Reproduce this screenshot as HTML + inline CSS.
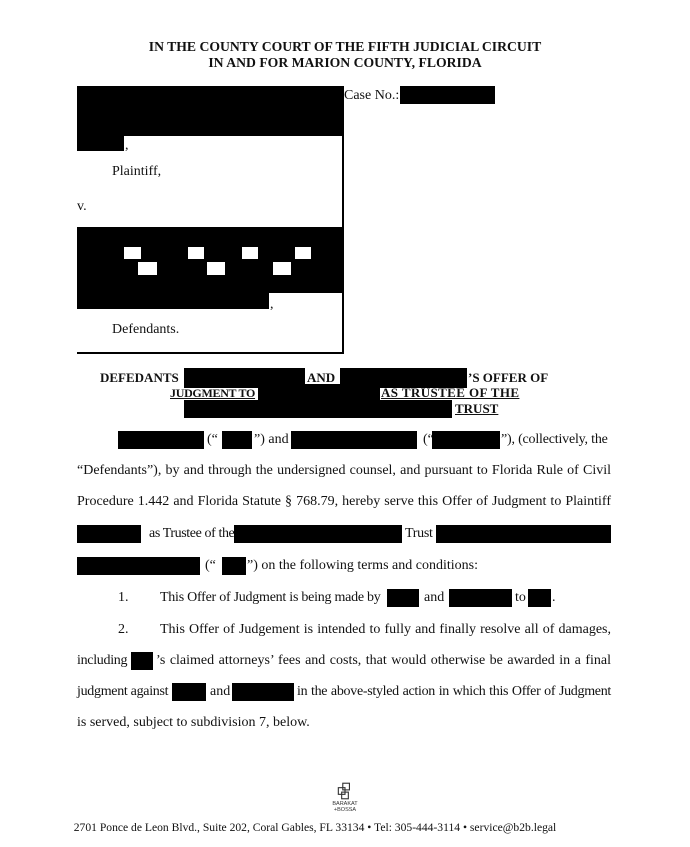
<!DOCTYPE html>
<html><head><meta charset="utf-8"><style>
body{margin:0;width:690px;height:847px;background:#fff;position:relative;overflow:hidden;font-family:"Liberation Serif",serif;color:#111}
.a{position:absolute;white-space:nowrap}
.b{position:absolute;background:#000}
.w{position:absolute;background:#fff}
.t{position:absolute;font-size:14px;line-height:18px;white-space:nowrap}
.j{text-align:justify;text-align-last:justify;white-space:normal}
.h{font-weight:bold;font-size:13px;line-height:16px}
</style></head><body>
<div class="a h" style="left:0;width:690px;text-align:center;top:39px;font-size:13.7px">IN THE COUNTY COURT OF THE FIFTH JUDICIAL CIRCUIT</div>
<div class="a h" style="left:0;width:690px;text-align:center;top:55px;font-size:13.7px">IN AND FOR MARION COUNTY, FLORIDA</div>

<div class="b" style="left:77px;top:86px;width:265px;height:50px"></div>
<div class="b" style="left:77px;top:136px;width:47px;height:15px"></div>
<div class="t" style="left:125px;top:137px">,</div>
<div class="b" style="left:342px;top:86px;width:2px;height:268px"></div>
<div class="b" style="left:77px;top:352px;width:267px;height:2px"></div>
<div class="t" style="left:344px;top:87px">Case No.:</div>
<div class="b" style="left:400px;top:86px;width:95px;height:18px"></div>
<div class="t" style="left:112px;top:163px">Plaintiff,</div>
<div class="t" style="left:77px;top:198px">v.</div>
<div class="b" style="left:77px;top:227px;width:265px;height:66px"></div>
<div class="b" style="left:77px;top:293px;width:192px;height:16px"></div>
<div class="w" style="left:124px;top:247px;width:17px;height:12px"></div>
<div class="w" style="left:138px;top:262px;width:19px;height:13px"></div>
<div class="w" style="left:188px;top:247px;width:16px;height:12px"></div>
<div class="w" style="left:207px;top:262px;width:18px;height:13px"></div>
<div class="w" style="left:242px;top:247px;width:16px;height:12px"></div>
<div class="w" style="left:273px;top:262px;width:18px;height:13px"></div>
<div class="w" style="left:295px;top:247px;width:16px;height:12px"></div>
<div class="t" style="left:270px;top:296px">,</div>
<div class="t" style="left:112px;top:321px">Defendants.</div>

<div class="a h" style="left:100px;top:370px">DEFEDANTS</div>
<div class="b" style="left:184px;top:368px;width:121px;height:20px"></div>
<div class="a h" style="left:307px;top:370px">AND</div>
<div class="b" style="left:340px;top:368px;width:127px;height:20px"></div>
<div class="a h" style="left:468px;top:370px">’S OFFER OF</div>
<div class="a h" style="left:170px;top:385px;text-decoration:underline;font-size:12px;letter-spacing:-0.3px">JUDGMENT TO</div>
<div class="b" style="left:258px;top:384px;width:122px;height:16px"></div>
<div class="a h" style="left:381px;top:385px;text-decoration:underline;letter-spacing:0.4px">AS TRUSTEE OF THE</div>
<div class="b" style="left:184px;top:400px;width:268px;height:18px"></div>
<div class="a h" style="left:455px;top:401px;text-decoration:underline">TRUST</div>

<div class="b" style="left:118px;top:431px;width:86px;height:18px"></div>
<div class="t" style="left:207px;top:431px">(“</div>
<div class="b" style="left:222px;top:431px;width:30px;height:18px"></div>
<div class="t" style="left:254px;top:431px">”) and</div>
<div class="b" style="left:291px;top:431px;width:126px;height:18px"></div>
<div class="t" style="left:423px;top:431px">(“</div>
<div class="b" style="left:432px;top:431px;width:68px;height:18px"></div>
<div class="t" style="left:501px;top:431px;letter-spacing:-0.2px">”), (collectively, the</div>

<div class="t j" style="left:77px;top:462px;width:534px">“Defendants”), by and through the undersigned counsel, and pursuant to Florida Rule of Civil</div>
<div class="t j" style="left:77px;top:493px;width:534px">Procedure 1.442 and Florida Statute § 768.79, hereby serve this Offer of Judgment to Plaintiff</div>

<div class="b" style="left:77px;top:525px;width:64px;height:18px"></div>
<div class="t" style="left:149px;top:525px;letter-spacing:-0.4px">as Trustee of the</div>
<div class="b" style="left:234px;top:525px;width:168px;height:18px"></div>
<div class="t" style="left:405px;top:525px;letter-spacing:-0.3px">Trust</div>
<div class="b" style="left:436px;top:525px;width:175px;height:18px"></div>

<div class="b" style="left:77px;top:557px;width:123px;height:18px"></div>
<div class="t" style="left:205px;top:557px">(“</div>
<div class="b" style="left:222px;top:557px;width:24px;height:18px"></div>
<div class="t" style="left:247px;top:557px">”) on the following terms and conditions:</div>

<div class="t" style="left:118px;top:589px">1.</div>
<div class="t" style="left:160px;top:589px;letter-spacing:-0.25px">This Offer of Judgment is being made by</div>
<div class="b" style="left:387px;top:589px;width:32px;height:18px"></div>
<div class="t" style="left:424px;top:589px">and</div>
<div class="b" style="left:449px;top:589px;width:63px;height:18px"></div>
<div class="t" style="left:515px;top:589px">to</div>
<div class="b" style="left:528px;top:589px;width:23px;height:18px"></div>
<div class="t" style="left:552px;top:589px">.</div>

<div class="t" style="left:118px;top:621px">2.</div>
<div class="t j" style="left:160px;top:621px;width:451px">This Offer of Judgement is intended to fully and finally resolve all of damages,</div>
<div class="t" style="left:77px;top:652px;letter-spacing:-0.3px">including</div>
<div class="b" style="left:131px;top:652px;width:22px;height:18px"></div>
<div class="t j" style="left:156px;top:652px;width:455px">’s claimed attorneys’ fees and costs, that would otherwise be awarded in a final</div>
<div class="t" style="left:77px;top:683px;letter-spacing:-0.3px">judgment against</div>
<div class="b" style="left:172px;top:683px;width:34px;height:18px"></div>
<div class="t" style="left:210px;top:683px">and</div>
<div class="b" style="left:232px;top:683px;width:62px;height:18px"></div>
<div class="t j" style="left:297px;top:683px;width:314px;letter-spacing:-0.3px">in the above-styled action in which this Offer of Judgment</div>
<div class="t" style="left:77px;top:714px">is served, subject to subdivision 7, below.</div>

<svg class="a" style="left:335px;top:781px" width="20" height="20" viewBox="0 0 18 18" fill="none" stroke="#333" stroke-width="1"><rect x="3" y="6" width="6" height="6"/><rect x="7" y="2" width="6" height="6"/><rect x="6" y="10" width="6" height="6"/></svg>
<div class="a" style="left:320px;width:50px;text-align:center;top:802px;font-family:'Liberation Sans',sans-serif;font-size:5.5px;line-height:5.5px;color:#333">BARAKAT<br>+BOSSA</div>
<div class="a" style="left:0;width:630px;text-align:center;top:821px;font-size:11.6px">2701 Ponce de Leon Blvd., Suite 202, Coral Gables, FL 33134 • Tel: 305-444-3114 • service@b2b.legal</div>
</body></html>
